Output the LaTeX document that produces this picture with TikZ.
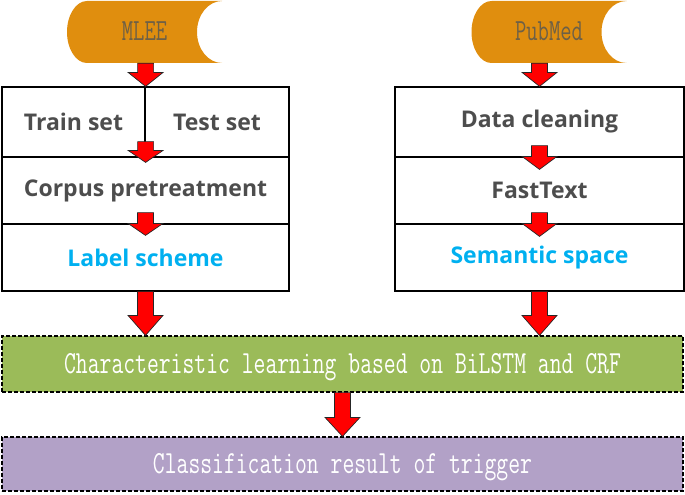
\documentclass[tikz,border=0pt]{standalone}
\usepackage{fontspec}
\usepackage{xcolor}
\usepackage{tikz}
\usetikzlibrary{calc}
\setsansfont{Open Sans}

\definecolor{srcorange}{RGB}{224,142,14}
\definecolor{srctext}{RGB}{110,96,70}
\definecolor{cellgray}{RGB}{77,77,77}
\definecolor{cellblue}{RGB}{0,176,240}
\definecolor{learngreen}{RGB}{155,187,89}
\definecolor{resultpurple}{RGB}{178,161,199}

\newcommand{\tallmono}[1]{\scalebox{1}[1.4]{#1}}
\newcommand{\redarrow}[3]{%
  \draw[blockarrow] let \p1=(#1), \p2=(#2) in
    (\x1-8,\y1) -- (\x1+8,\y1) -- (\x1+8,\y2+#3) -- (\x1+17.5,\y2+#3) -- (\x1,\y2)
    -- (\x1-17.5,\y2+#3) -- (\x1-8,\y2+#3) -- cycle;}

\begin{document}
\begin{tikzpicture}[x=1pt, y=-1pt,
    source/.style={minimum width=155pt, minimum height=62pt, inner sep=0pt,
      text height=18pt, text depth=0pt,
      text=srctext, font=\ttfamily\fontsize{22}{22}\selectfont,
      path picture={\fill[srcorange]
        ([xshift=20pt]path picture bounding box.north west) -- (path picture bounding box.north east)
        arc[start angle=90, end angle=270, x radius=25pt, y radius=31pt]
        -- ([xshift=20pt]path picture bounding box.south west)
        arc[start angle=270, end angle=90, x radius=20pt, y radius=31pt] -- cycle;}},
    cell/.style={draw, line width=1.2pt, inner sep=0pt, minimum height=67pt,
      text=cellgray, font=\sffamily\bfseries\fontsize{23}{23}\selectfont},
    stage/.style={draw, line width=1.2pt, dash pattern=on 4pt off 2pt, inner sep=0pt,
      text height=19pt, text depth=0pt,
      minimum width=681pt, text=white, font=\ttfamily\fontsize{23}{23}\selectfont},
    blockarrow/.style={fill=red, draw=black!85, line width=0.7pt, line join=miter}]
  \useasboundingbox (0,0) rectangle (685,495);

  \node[source] (mlee) at (144.5,32) {\tallmono{MLEE}};
  \node[source] (pubmed) at (549,32) {\tallmono{PubMed}};

  \node[cell, minimum width=143pt, minimum height=70pt] (train) at (73.5,122) {Train set};
  \node[cell, minimum width=144pt, minimum height=70pt] (test) at (217,122) {Test set};
  \node[cell, minimum width=287pt] (corpus) at (145.5,190.5) {Corpus pretreatment};
  \node[cell, minimum width=287pt, text=cellblue] (label) at (145.5,257.5) {Label scheme};

  \node[cell, minimum width=289pt, minimum height=70pt] (clean) at (539.5,122) {Data cleaning};
  \node[cell, minimum width=289pt] (fast) at (539.5,190.5) {FastText};
  \node[cell, minimum width=289pt, text=cellblue] (sem) at (539.5,257.5) {Semantic space};

  \node[stage, fill=learngreen, minimum height=56pt] (learn) at (342.5,364)
    {\tallmono{Characteristic learning based on BiLSTM and CRF}};
  \node[stage, fill=resultpurple, minimum height=54pt] (result) at (342.5,464)
    {\tallmono{Classification result of trigger}};

  \redarrow{train.north east |- mlee.south}{train.north east}{14}
  \redarrow{[yshift=16pt]train.south east}{[yshift=-6pt]corpus.north}{12}
  \redarrow{[yshift=12pt]corpus.south}{[yshift=-12pt]label.north}{12}
  \redarrow{label.south}{learn.north}{20}

  \redarrow{clean.north |- pubmed.south}{clean.north}{14}
  \redarrow{[yshift=12pt]clean.south}{[yshift=-13pt]fast.north}{13}
  \redarrow{[yshift=12pt]fast.south}{[yshift=-13pt]sem.north}{13}
  \redarrow{sem.south}{learn.north}{20}

  \redarrow{learn.south}{result.north}{19}
\end{tikzpicture}
\end{document}
